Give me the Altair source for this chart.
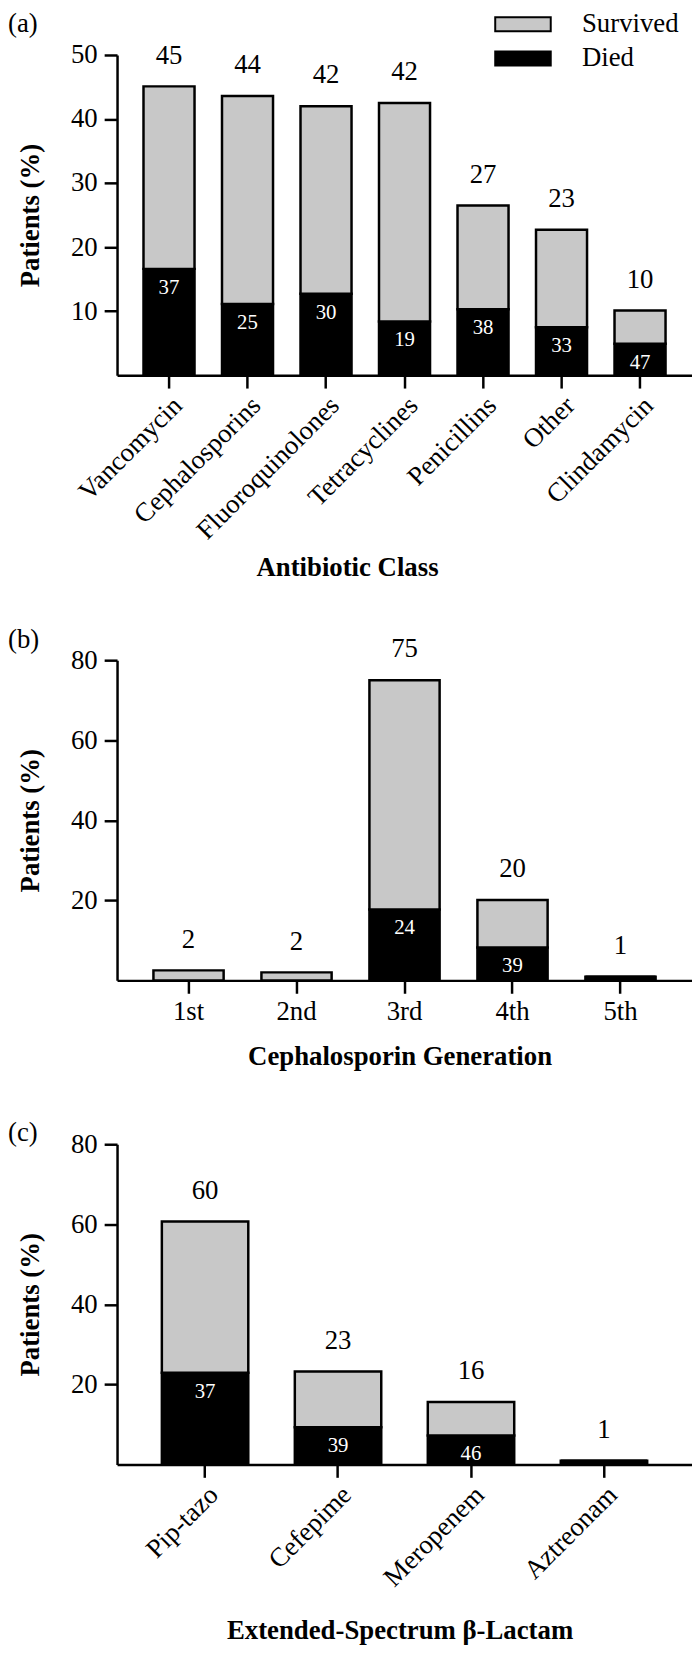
import altair as alt
import pandas as pd

FONT = "Liberation Serif"
GRAY = "#c8c8c8"

# ---------------- data ----------------
a_classes = ["Vancomycin", "Cephalosporins", "Fluoroquinolones", "Tetracyclines",
             "Penicillins", "Other", "Clindamycin"]
a_total = [45.1, 43.6, 42.0, 42.5, 26.5, 22.7, 10.1]
a_died = [16.6, 11.1, 12.7, 8.4, 10.3, 7.5, 4.9]
a_top_labels = ["45", "44", "42", "42", "27", "23", "10"]
a_died_labels = ["37", "25", "30", "19", "38", "33", "47"]

b_gens = ["1st", "2nd", "3rd", "4th", "5th"]
b_total = [2.5, 2.0, 75.0, 20.1, 0.9]
b_died = [0.0, 0.0, 17.7, 8.2, 0.9]
b_top_labels = ["2", "2", "75", "20", "1"]
b_died_labels = ["", "", "24", "39", ""]

c_drugs = ["Pip-tazo", "Cefepime", "Meropenem", "Aztreonam"]
c_total = [60.7, 23.2, 15.6, 0.9]
c_died = [22.9, 9.3, 7.2, 0.9]
c_top_labels = ["60", "23", "16", "1"]
c_died_labels = ["37", "39", "46", ""]

status_order = ["Survived", "Died"]

W = 580
H = 323


def panel(cats, total, died, top_labels, died_labels, ymax, yticks, xtitle,
          letter, letter_y, angle, title_x, title_pad, show_legend):
    rows = []
    for c, t, d in zip(cats, total, died):
        rows.append({"cat": c, "status": "Died", "value": d, "ord": 0})
        rows.append({"cat": c, "status": "Survived", "value": round(t - d, 3), "ord": 1})
    long_df = pd.DataFrame(rows)
    lab_df = pd.DataFrame({"cat": cats, "total": total, "died": died,
                           "top": top_labels, "inner": died_labels})

    common = dict(title=xtitle, labelFont=FONT, labelFontSize=27, labelColor="black",
                  titleFont=FONT, titleFontSize=27, titleFontWeight="bold",
                  titleColor="black", titlePadding=title_pad, titleX=title_x,
                  tickSize=13, tickWidth=2.5, tickColor="black",
                  domainColor="black", domainWidth=2.5, grid=False,
                  labelOverlap=False, labelLimit=0, titleLimit=0)
    if angle != 0:
        xaxis = alt.Axis(labelAngle=angle, labelAlign="right", labelBaseline="top",
                         labelPadding=4, **common)
    else:
        xaxis = alt.Axis(labelAngle=0, labelAlign="center", labelBaseline="top",
                         labelPadding=5, **common)
    yaxis = alt.Axis(values=yticks, title="Patients (%)", titleFont=FONT,
                     titleFontSize=27, titleFontWeight="bold", titleColor="black",
                     titlePadding=26, labelFont=FONT, labelFontSize=27,
                     labelColor="black", labelPadding=7, tickSize=13, tickWidth=2.5,
                     tickColor="black", domainColor="black", domainWidth=2.5,
                     grid=False)
    xenc = alt.X("cat:N", sort=cats,
                 scale=alt.Scale(paddingInner=0.35, paddingOuter=0.337),
                 axis=xaxis)
    yscale = alt.Scale(domain=[0, ymax], nice=False, zero=True)

    if show_legend:
        leg = alt.Legend(title=None, orient="none", legendX=396, legendY=-44.5,
                         symbolType="M-4,-1H4V1H-4Z", symbolSize=196,
                         symbolStrokeColor="black", symbolStrokeWidth=2,
                         symbolOpacity=1, labelFont=FONT, labelFontSize=27,
                         labelColor="black", labelOffset=46, rowPadding=6.5,
                         padding=0)
    else:
        leg = None

    bars = alt.Chart(long_df).mark_bar(stroke="black", strokeWidth=2.5,
                                       opacity=1).encode(
        x=xenc,
        y=alt.Y("value:Q", stack="zero", scale=yscale, axis=yaxis),
        fill=alt.Fill("status:N",
                      scale=alt.Scale(domain=status_order, range=[GRAY, "black"]),
                      legend=leg),
        order=alt.Order("ord:Q"),
    )
    top = alt.Chart(lab_df).mark_text(font=FONT, fontSize=27, color="black",
                                      baseline="middle", dy=-31).encode(
        x=xenc, y=alt.Y("total:Q", scale=yscale, axis=yaxis), text="top:N")
    inner = alt.Chart(lab_df).mark_text(font=FONT, fontSize=21, color="white",
                                        baseline="middle", dy=19).encode(
        x=xenc, y=alt.Y("died:Q", scale=yscale, axis=yaxis), text="inner:N")
    let = alt.Chart(alt.Data(values=[{"t": letter}])).mark_text(
        font=FONT, fontSize=27, color="black", align="left",
        baseline="middle").encode(
        x=alt.value(-110), y=alt.value(letter_y), text="t:N")
    return alt.layer(bars, top, inner, let).properties(width=W, height=H)


pa = panel(a_classes, a_total, a_died, a_top_labels, a_died_labels, 50,
           [10, 20, 30, 40, 50], "Antibiotic Class", "(a)", -31, -45, 232, 11, True)
pb = panel(b_gens, b_total, b_died, b_top_labels, b_died_labels, 80,
           [20, 40, 60, 80], "Cephalosporin Generation", "(b)", -20, 0, 285, 20, False)
pc = panel(c_drugs, c_total, c_died, c_top_labels, c_died_labels, 80,
           [20, 40, 60, 80], "Extended-Spectrum β-Lactam", "(c)", -11, -45, 285, 27, False)

lower = alt.vconcat(pb, pc, spacing=50.3).resolve_scale(
    fill="independent").resolve_legend(fill="independent")

chart = alt.vconcat(pa, lower, spacing=45.5).resolve_scale(
    fill="independent").resolve_legend(fill="independent").configure_view(
    stroke=None).properties(padding={"left": 0, "top": -4.8, "right": 0, "bottom": 0},
                            background="white")

chart.save("out.html", embed_options={"renderer": "svg", "actions": False})
